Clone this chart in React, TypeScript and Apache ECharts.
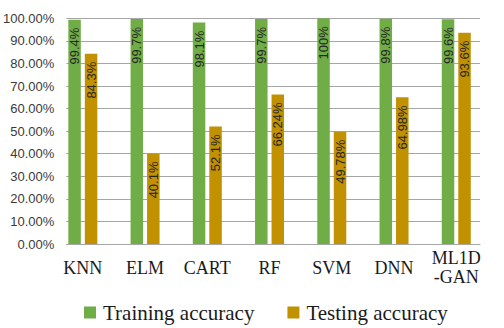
import React, { useEffect, useRef } from "react";
import * as echarts from "echarts";

const categories = ["KNN", "ELM", "CART", "RF", "SVM", "DNN", "ML1D\n-GAN"];
const trainingAccuracy = [99.4, 99.7, 98.1, 99.7, 100, 99.8, 99.6];
const testingAccuracy = [84.3, 40.1, 52.1, 66.24, 49.78, 64.98, 93.6];
const seriesNames = ["Training accuracy", "Testing accuracy"];

export default function App() {
  const ref = useRef<HTMLDivElement>(null);
  useEffect(() => {
    if (!ref.current) return;
    const chart = echarts.init(ref.current, undefined, { renderer: "svg" });
    const barLabel = {
      show: true,
      position: "insideTop",
      rotate: 90,
      align: "right",
      verticalAlign: "middle",
      distance: 8,
      fontFamily: "Liberation Sans",
      fontSize: 13,
      color: "#262626",
      formatter: "{c}%",
    };
    chart.setOption({
      animation: false,
      backgroundColor: "#ffffff",
      grid: [
        { left: 51.7, right: 16.6, top: 18.3, height: 225.7 },
        { left: 64, right: 24, top: 18.3, height: 225.7 },
      ],
      legend: {
        data: seriesNames,
        left: 79,
        top: 297,
        itemWidth: 12,
        itemHeight: 12,
        itemGap: 33,
        icon: "rect",
        textStyle: {
          fontFamily: "Liberation Serif",
          fontSize: 21,
          color: "#1a1a1a",
          padding: [0, 0, 0, 2],
          lineHeight: 20,
        },
      },
      xAxis: [
        {
          type: "category",
          gridIndex: 0,
          data: categories,
          axisLine: { show: false },
          axisTick: { show: false },
          axisLabel: {
            interval: 0,
            fontFamily: "Liberation Serif",
            fontSize: 18,
            lineHeight: 19,
            color: "#1a1a1a",
            verticalAlign: "middle",
            margin: 23.7,
          },
        },
        {
          type: "category",
          gridIndex: 1,
          data: categories,
          axisLine: { show: true, lineStyle: { color: "#A6A6A6", width: 1 } },
          axisTick: { show: false },
          axisLabel: { show: false },
        },
      ],
      yAxis: [
        {
          type: "value",
          gridIndex: 0,
          min: 0,
          max: 100,
          interval: 10,
          show: false,
          splitLine: { show: false },
        },
        {
          type: "value",
          gridIndex: 1,
          min: 0,
          max: 100,
          interval: 10,
          axisLine: { show: false },
          axisTick: { show: false },
          axisLabel: {
            fontFamily: "Liberation Sans",
            fontSize: 13,
            color: "#3a3a3a",
            margin: 12,
            formatter: (v: number) => v.toFixed(2) + "%",
          },
          splitLine: { show: true, lineStyle: { color: "#A6A6A6", width: 1 } },
        },
      ],
      series: [
        {
          name: seriesNames[0],
          type: "bar",
          xAxisIndex: 0,
          yAxisIndex: 0,
          data: trainingAccuracy,
          barWidth: 12.5,
          barGap: "32%",
          itemStyle: { color: "#70AD47" },
          label: barLabel,
        },
        {
          name: seriesNames[1],
          type: "bar",
          xAxisIndex: 0,
          yAxisIndex: 0,
          data: testingAccuracy,
          barWidth: 12.5,
          barGap: "32%",
          itemStyle: { color: "#C29100" },
          label: barLabel,
        },
      ],
    });
    return () => chart.dispose();
  }, []);
  return (
    <div
      ref={ref}
      style={{ position: "absolute", left: 0, top: 0, width: 504, height: 328, background: "#fff" }}
    />
  );
}
